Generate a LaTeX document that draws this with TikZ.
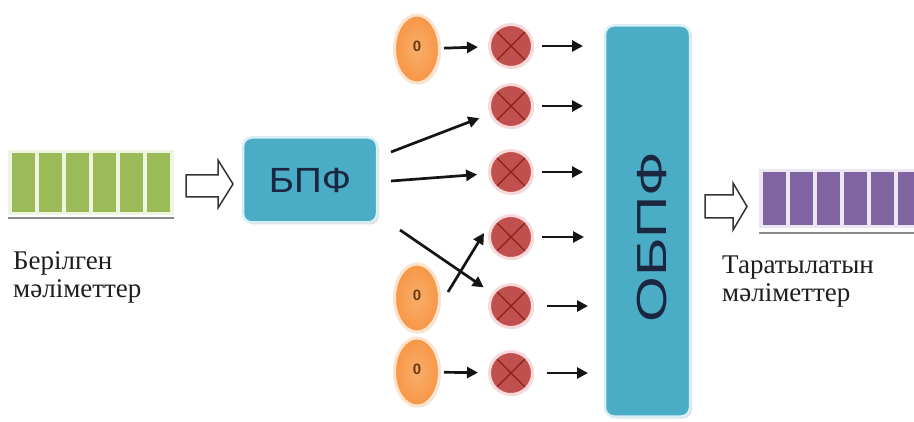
\documentclass[tikz,border=0pt]{standalone}
\usepackage{fontspec}
\setmainfont{Liberation Serif}
\newfontfamily\serf{Liberation Serif}
\newfontfamily\sansf{Liberation Sans}
\usetikzlibrary{arrows.meta,shadows,shapes.geometric}
\definecolor{boxblue}{HTML}{4BACC6}
\definecolor{boxrim}{HTML}{D6EEF5}
\definecolor{navytxt}{HTML}{1B2640}
\definecolor{orangef}{HTML}{F79646}
\definecolor{orangein}{HTML}{F9AE6A}
\definecolor{orangerim}{HTML}{FBE3CE}
\definecolor{zerotxt}{HTML}{6B3A10}
\definecolor{redf}{HTML}{C0504D}
\definecolor{redrim}{HTML}{F6D9D8}
\definecolor{xred}{HTML}{8A1E1E}
\definecolor{greenbar}{HTML}{9BBB59}
\definecolor{greenbg}{HTML}{EEF5E1}
\definecolor{purplebar}{HTML}{8064A2}
\definecolor{purplebg}{HTML}{EDE7F3}
\definecolor{labeltxt}{HTML}{1E1E1E}
\definecolor{arrcol}{HTML}{151515}
\tikzset{
  bluebox/.style={rectangle, rounded corners=9pt, fill=boxblue, draw=boxrim, line width=2.5pt,
    drop shadow={opacity=0.25, shadow xshift=2pt, shadow yshift=-2pt}, inner sep=0pt},
  zeronode/.style={ellipse, inner color=orangein, outer color=orangef, draw=orangerim, line width=3pt, minimum width=45pt,
    minimum height=68pt, inner sep=0pt, text=zerotxt, font=\sansf\bfseries\fontsize{15}{15}\selectfont,
    drop shadow={opacity=0.2, shadow xshift=1.5pt, shadow yshift=-1.5pt}},
  mulnode/.style={circle, fill=redf, draw=redrim, line width=3pt, minimum size=43pt, inner sep=0pt,
    drop shadow={opacity=0.2, shadow xshift=1.5pt, shadow yshift=-1.5pt},
    path picture={\draw[xred, line width=1.3pt]
      (path picture bounding box.north west) -- (path picture bounding box.south east)
      (path picture bounding box.north east) -- (path picture bounding box.south west);}},
  arr/.style={draw=arrcol, line width=2.7pt, -{Triangle[length=11pt,width=11pt]}},
  hollow/.style={draw=black!80, line width=1.5pt, fill=white, line join=miter},
  lbl/.style={anchor=base west, inner sep=0pt, text=labeltxt, font=\serf\fontsize{27}{30}\selectfont}
}
\begin{document}
\begin{tikzpicture}[x=1pt,y=-1pt]
\useasboundingbox (0,0) rectangle (914,422);
\fill[white] (0,0) rectangle (914,422);

% input data bars
\fill[greenbg] (8,150) rectangle (174,215);
\foreach \i in {0,...,5} {
  \fill[greenbar] (12+27*\i,153) rectangle (34.5+27*\i,212);
}
\draw[black!45, line width=1.5pt] (8,218) -- (174,218);
\node[lbl] (inl1) at (13,270) {Берілген};
\node[lbl] (inl2) at (13,298) {мәліметтер};

% hollow arrow in
\draw[hollow] (186,175) -- (218,175) -- (218,160) -- (233,184) -- (218,208) -- (218,197) -- (186,197) -- cycle;

% FFT box
\node[bluebox, minimum width=134pt, minimum height=85pt] (bpf) at (310,180)
  {\sansf\fontsize{35}{35}\selectfont\color{navytxt}\scalebox{1.1}[1]{БПФ}};

% IFFT box
\node[bluebox, minimum width=85pt, minimum height=391pt] (obpf) at (647.5,221) {};
\node[rotate=90, inner sep=0pt, text=navytxt, font=\sansf\fontsize{42}{42}\selectfont] (obpft) at (652,237)
  {\scalebox{1.4}[1]{ОБПФ}};

% zero sources
\node[zeronode] (z1) at (417,49) {\raisebox{5pt}{0}};
\node[zeronode] (z2) at (417,298) {\raisebox{5pt}{0}};
\node[zeronode] (z3) at (417,372) {\raisebox{5pt}{0}};

% multipliers
\node[mulnode] (m1) at (511,46) {};
\node[mulnode] (m2) at (511,106) {};
\node[mulnode] (m3) at (511,172) {};
\node[mulnode] (m4) at (511,237) {};
\node[mulnode] (m5) at (511,306) {};
\node[mulnode] (m6) at (511,373) {};

% start points near FFT box
\coordinate (s1) at (391,152);
\coordinate (s2) at (391,181);
\coordinate (s3) at (400,230);

% arrow ends towards IFFT
\coordinate (o1) at (583,46);
\coordinate (o2) at (583,106);
\coordinate (o3) at (583,172);
\coordinate (o4) at (584,237);
\coordinate (o5) at (588,306);
\coordinate (o6) at (588,373);

\draw[arr, shorten <=3pt, shorten >=10pt] (z1) -- (m1);
\draw[arr, shorten <=3pt, shorten >=10pt] (z3) -- (m6);
\draw[arr, shorten >=11pt] (s1) -- (m2);
\draw[arr, shorten >=11pt] (s2) -- (m3);
\draw[arr, shorten >=10pt] (s3) -- (m5);
\draw[arr] ([shift={(7,-6)}]z2.east) -- ([shift={(-4,-4)}]m4.west);

\draw[arr, shorten <=8pt] (m1) -- (o1);
\draw[arr, shorten <=8pt] (m2) -- (o2);
\draw[arr, shorten <=8pt] (m3) -- (o3);
\draw[arr, shorten <=8pt] (m4) -- (o4);
\draw[arr, shorten <=13pt] (m5) -- (o5);
\draw[arr, shorten <=13pt] (m6) -- (o6);

% hollow arrow out
\draw[hollow] (705,195) -- (733,195) -- (733,183) -- (747,206.5) -- (733,230) -- (733,218) -- (705,218) -- cycle;

% output data bars
\fill[purplebg] (759,169) rectangle (914,228);
\foreach \i in {0,...,4} {
  \fill[purplebar] (763+27*\i,172) rectangle (786+27*\i,225);
}
\fill[purplebar] (898,172) rectangle (914,225);
\draw[black!45, line width=1.5pt] (759,233) -- (914,233);
\node[lbl] (outl1) at (722,274) {Таратылатын};
\node[lbl] (outl2) at (722,302) {мәліметтер};
\end{tikzpicture}
\end{document}
